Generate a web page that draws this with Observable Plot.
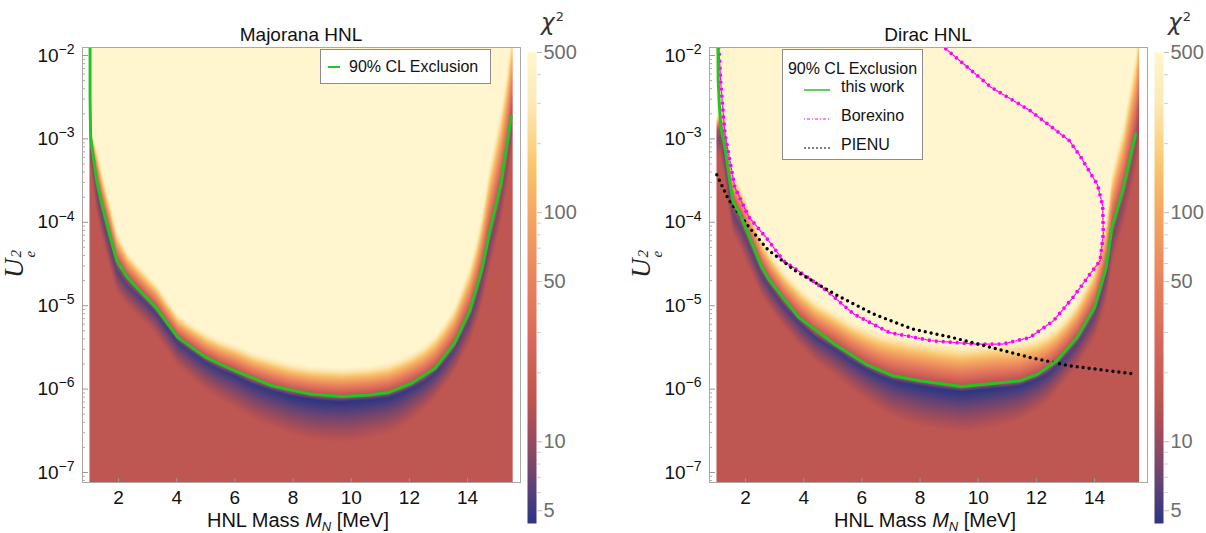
<!DOCTYPE html>
<html><head><meta charset="utf-8">
<script src="https://cdn.jsdelivr.net/npm/d3@7"></script>
<script src="https://cdn.jsdelivr.net/npm/@observablehq/plot@0.6"></script>
<style>
body{margin:0;background:#fff;font-family:"Liberation Sans",Arial,Helvetica,sans-serif;}
#root{position:relative;width:1206px;height:533px;overflow:hidden;background:#fff}
.abs{position:absolute;white-space:nowrap;line-height:1}
.title{font-size:19px;color:#111;transform:translateX(-50%)}
.xlab{font-size:20px;color:#111;transform:translateX(-50%)}
.xlab sub{font-size:13px;vertical-align:-4px;font-style:italic}
.ylab{font-family:"Liberation Serif","DejaVu Serif",serif;font-style:italic;font-size:27px;color:#222;transform:translate(-50%,-50%) rotate(-90deg)}
.stack{display:inline-flex;flex-direction:column;font-size:15px;line-height:14px;vertical-align:2px;margin-left:1px}
.chi{font-size:23px;color:#333;font-family:"DejaVu Sans","Liberation Sans",sans-serif;font-style:italic}
.chi sup{font-size:13px;font-style:normal;vertical-align:9px;margin-left:1px}
.legend{border:1px solid #8c8c8c;background:#fff;font-size:16px;color:#111}
</style></head><body><div id="root"></div>
<script>
// ---------------- data ----------------
const xTicks = [2, 4, 6, 8, 10, 12, 14];
const yTicks = [1e-7, 1e-6, 1e-5, 1e-4, 1e-3, 1e-2];
const chi2Ticks = [5, 10, 50, 100, 500];
const chi2MinorTicks = [6, 7, 8, 9, 20, 30, 40, 60, 70, 80, 90, 200, 300, 400];
const massDomain = [0.76, 15.82];
const logU2Domain = [-7.12, -1.904];
const chi2Domain = [4.4, 500];
const chi2Background = 15.5;
const chi2AtEdge = 13;
const chi2Cream = 500;

// colour map (chi^2 value -> colour)
const colorStopChi2 = [4.4, 5, 6, 7, 8, 10, 12, 15, 18, 25, 35, 50, 70, 100, 150, 200, 300, 500];
const colorStopHex = ["#2d3580", "#3b3a80", "#55407a", "#6a4473", "#7c4769", "#974b5f", "#aa4f57", "#bd5552", "#c55a52", "#d3655a", "#df735b", "#e8825d", "#ef945f", "#f4a862", "#f8c26b", "#fbd487", "#fde9b5", "#fff6cf"];

// Majorana: 90% CL exclusion contour
const majExclMass  = [1.02, 1.02, 1.04, 1.1, 1.25, 1.44, 1.7, 1.94, 2.3, 2.73, 3.28, 4.04, 5.0, 6.0, 7.28, 8.6, 9.68, 10.6, 11.28, 12.07, 12.88, 13.55, 14.08, 14.48, 14.75, 15.15, 15.5];
const majExclLogU2 = [-1.9, -2.5, -2.98, -3.14, -3.5, -3.8, -4.15, -4.46, -4.66, -4.82, -5.02, -5.38, -5.62, -5.78, -5.96, -6.06, -6.09, -6.07, -6.04, -5.93, -5.75, -5.45, -5.06, -4.58, -4.13, -3.54, -2.73];
// Majorana: chi^2 map read column by column (log10 U^2 of the sharp edge, rise to cream, blue dip below)
const majMapMass      = [1.0, 1.1, 1.25, 1.44, 1.7, 1.94, 2.3, 2.73, 3.0, 3.28, 3.65, 4.04, 4.5, 5.0, 5.5, 6.0, 6.6, 7.28, 7.9, 8.6, 9.1, 9.68, 10.1, 10.6, 11.28, 11.7, 12.07, 12.5, 12.88, 13.2, 13.55, 13.8, 14.08, 14.3, 14.48, 14.75, 14.95, 15.15, 15.35, 15.55];
const majMapEdge      = [-3.0, -3.14, -3.5, -3.8, -4.15, -4.46, -4.66, -4.82, -4.92, -5.02, -5.2, -5.38, -5.5, -5.62, -5.71, -5.78, -5.88, -5.96, -6.02, -6.06, -6.08, -6.09, -6.08, -6.07, -6.04, -5.99, -5.93, -5.85, -5.75, -5.62, -5.45, -5.27, -5.06, -4.82, -4.58, -4.13, -3.85, -3.54, -3.15, -2.6];
const majMapCreamRise = [0.15, 0.19, 0.4, 0.4, 0.4, 0.36, 0.31, 0.3, 0.3, 0.3, 0.29, 0.28, 0.29, 0.3, 0.31, 0.32, 0.33, 0.34, 0.34, 0.34, 0.35, 0.35, 0.35, 0.35, 0.36, 0.37, 0.37, 0.38, 0.4, 0.42, 0.45, 0.5, 0.56, 0.62, 0.68, 0.83, 0.9, 0.94, 1.0, 1.0];
const majMapDipDepth  = [0.1, 0.14, 0.16, 0.16, 0.14, 0.12, 0.1, 0.08, 0.07, 0.07, 0.06, 0.06, 0.06, 0.06, 0.06, 0.06, 0.06, 0.06, 0.06, 0.06, 0.06, 0.06, 0.06, 0.06, 0.06, 0.06, 0.06, 0.06, 0.06, 0.07, 0.08, 0.09, 0.1, 0.12, 0.14, 0.16, 0.18, 0.2, 0.2, 0.2];
const majMapDipChi2   = [9, 8, 7.5, 7, 6.5, 6.2, 6, 5.8, 5.6, 5.5, 5.3, 5.2, 5.1, 5, 4.9, 4.8, 4.7, 4.6, 4.5, 4.4, 4.4, 4.4, 4.4, 4.5, 4.6, 4.7, 4.9, 5.1, 5.3, 5.6, 6, 6.3, 6.6, 7, 7.3, 7.8, 8.3, 9, 9.5, 10];
const majMapFadeDepth = [0.3, 0.35, 0.4, 0.4, 0.4, 0.38, 0.35, 0.33, 0.32, 0.32, 0.33, 0.35, 0.37, 0.4, 0.42, 0.45, 0.48, 0.5, 0.52, 0.55, 0.55, 0.55, 0.55, 0.52, 0.5, 0.47, 0.44, 0.4, 0.37, 0.35, 0.35, 0.35, 0.38, 0.4, 0.42, 0.45, 0.45, 0.45, 0.45, 0.45];

// Dirac: 90% CL exclusion contour (this work)
const dirExclMass  = [1.05, 1.06, 1.1, 1.15, 1.29, 1.56, 1.83, 2.23, 2.56, 2.83, 3.83, 5.06, 6.13, 7.07, 8.0, 9.43, 10.57, 11.44, 12.05, 12.7, 13.4, 14.0, 14.4, 14.6, 15.0, 15.41];
const dirExclLogU2 = [-1.9, -2.3, -2.6, -2.86, -3.1, -3.74, -3.92, -4.26, -4.54, -4.70, -5.14, -5.46, -5.70, -5.84, -5.90, -5.97, -5.93, -5.90, -5.82, -5.66, -5.38, -5.02, -4.54, -4.06, -3.58, -2.94];
// Dirac: chi^2 map read column by column
const dirMapMass      = [1.0, 1.15, 1.29, 1.42, 1.56, 1.83, 2.23, 2.56, 2.83, 3.3, 3.83, 4.4, 5.06, 5.6, 6.13, 6.6, 7.07, 7.5, 8.0, 8.7, 9.43, 10.0, 10.57, 11.0, 11.44, 12.05, 12.4, 12.7, 13.05, 13.4, 13.7, 14.0, 14.2, 14.4, 14.6, 14.8, 15.0, 15.2, 15.41, 15.53];
const dirMapEdge      = [-2.9, -2.86, -3.1, -3.45, -3.74, -3.92, -4.26, -4.54, -4.70, -4.93, -5.14, -5.32, -5.46, -5.59, -5.70, -5.78, -5.84, -5.87, -5.90, -5.94, -5.97, -5.95, -5.93, -5.92, -5.90, -5.82, -5.75, -5.66, -5.53, -5.38, -5.21, -5.02, -4.80, -4.54, -4.06, -3.82, -3.58, -3.27, -2.94, -2.6];
const dirMapCreamRise = [0.15, 0.25, 0.3, 0.35, 0.35, 0.35, 0.35, 0.35, 0.35, 0.36, 0.38, 0.39, 0.4, 0.42, 0.45, 0.47, 0.5, 0.5, 0.5, 0.5, 0.5, 0.5, 0.5, 0.49, 0.48, 0.45, 0.44, 0.42, 0.42, 0.44, 0.47, 0.5, 0.55, 0.6, 0.7, 0.75, 0.8, 0.9, 1.0, 1.0];
const dirMapDipDepth  = [0.1, 0.14, 0.16, 0.16, 0.16, 0.14, 0.12, 0.1, 0.08, 0.07, 0.06, 0.06, 0.06, 0.06, 0.06, 0.06, 0.06, 0.06, 0.06, 0.06, 0.06, 0.06, 0.06, 0.06, 0.06, 0.06, 0.06, 0.06, 0.07, 0.08, 0.09, 0.1, 0.11, 0.12, 0.14, 0.16, 0.18, 0.2, 0.2, 0.2];
const dirMapDipChi2   = [9, 8, 7.5, 7, 6.8, 6.5, 6.2, 6, 5.8, 5.6, 5.4, 5.2, 5.1, 5, 4.9, 4.8, 4.7, 4.6, 4.5, 4.4, 4.4, 4.4, 4.5, 4.6, 4.7, 4.9, 5.1, 5.3, 5.6, 6, 6.3, 6.6, 7, 7.3, 7.8, 8.3, 9, 9.5, 10, 10];
const dirMapFadeDepth = [0.3, 0.35, 0.4, 0.4, 0.4, 0.4, 0.38, 0.35, 0.33, 0.32, 0.33, 0.35, 0.38, 0.4, 0.43, 0.46, 0.5, 0.52, 0.55, 0.55, 0.55, 0.55, 0.53, 0.5, 0.47, 0.43, 0.4, 0.37, 0.35, 0.35, 0.35, 0.38, 0.4, 0.42, 0.45, 0.45, 0.45, 0.45, 0.45, 0.45];

// Borexino bound
const borexMass  = [1.08, 1.15, 1.29, 1.63, 2.1, 2.77, 3.3, 3.97, 4.79, 5.72, 6.93, 8.4, 9.9, 10.84, 11.78, 12.59, 13.26, 13.93, 14.19, 14.3, 14.28, 14.1, 13.53, 13.13, 11.78, 10.44, 9.09, 8.82];
const borexLogU2 = [-1.9, -2.34, -2.94, -3.58, -3.93, -4.21, -4.46, -4.62, -4.82, -5.10, -5.32, -5.42, -5.46, -5.46, -5.38, -5.18, -4.90, -4.58, -4.46, -4.14, -3.8, -3.55, -3.22, -3.02, -2.66, -2.38, -1.98, -1.9];
// PIENU bound
const pienuMass  = [1.01, 1.42, 2.1, 2.77, 3.71, 5.06, 6.4, 7.74, 9.09, 10.44, 11.78, 13.13, 14.47, 15.43];
const pienuLogU2 = [-3.43, -3.73, -4.05, -4.33, -4.58, -4.86, -5.10, -5.28, -5.38, -5.50, -5.62, -5.72, -5.78, -5.82];

// ---------------- rendering ----------------
const FONT = "'Liberation Sans', Arial, Helvetica, sans-serif";
const GREEN = "#25c425", MAGENTA = "#ff00ff";
const root = document.getElementById("root");
const L10 = Math.log10;

const piece = d3.scaleLinear().domain(colorStopChi2.map(L10)).range(colorStopHex).interpolate(d3.interpolateRgb).clamp(true);
const cLo = L10(chi2Domain[0]), cHi = L10(chi2Domain[1]);
const colorOpts = {type: "linear", domain: [cLo, cHi], clamp: true, interpolate: (t) => piece(cLo + t * (cHi - cLo))};

const yMinor = [];
for (let d = -8; d <= -2; d++) for (let k = 2; k <= 9; k++) {
  const v = k * 10 ** d;
  if (L10(v) > logU2Domain[0] && L10(v) < logU2Domain[1]) yMinor.push(v);
}

function place(node, left, top) {
  node.style.position = "absolute"; node.style.left = left + "px"; node.style.top = top + "px";
  root.appendChild(node);
}
function html(h, cls, left, top) {
  const d = document.createElement("div");
  d.className = "abs " + (cls || "");
  d.innerHTML = h; d.style.left = left + "px"; d.style.top = top + "px";
  root.appendChild(d); return d;
}

// chi^2 field built from the column readings: value (log10 chi^2) at (mass, U^2)
function makeField(mass, edge, rise, dipD, dipC, fadeD) {
  const n = mass.length;
  const vBg = L10(chi2Background), vEdge = L10(chi2AtEdge), vTop = L10(chi2Cream);
  return (m, u) => {
    let i = d3.bisectRight(mass, m) - 1;
    i = Math.max(0, Math.min(n - 2, i));
    const f = Math.max(0, Math.min(1, (m - mass[i]) / (mass[i + 1] - mass[i])));
    const at = a => a[i] + (a[i + 1] - a[i]) * f;
    const e = at(edge), y = L10(u);
    const l0 = e - at(fadeD), l1 = e - at(dipD), l3 = e + at(rise);
    const v1 = L10(at(dipC));
    if (y <= l0) return vBg;
    if (y <= l1) return vBg + (v1 - vBg) * (y - l0) / (l1 - l0);
    if (y <= e) return v1 + (vEdge - v1) * (y - l1) / (e - l1);
    if (y <= l3) return vEdge + (vTop - vEdge) * (y - e) / (l3 - e);
    return vTop;
  };
}
const toRows = (ms, ls) => ms.map((m, i) => ({m, u: 10 ** ls[i]}));

function supLabels(svg) {
  svg.querySelectorAll('g[aria-label="y-axis tick label"] text').forEach(t => {
    const e = t.textContent;
    if (!e) return;
    t.textContent = "10";
    const ts = document.createElementNS("http://www.w3.org/2000/svg", "tspan");
    ts.setAttribute("dy", "-0.55em"); ts.setAttribute("font-size", "14px");
    ts.textContent = "\u2212" + Math.abs(+e);
    t.appendChild(ts);
  });
}

function panel(left, field, x2, extraMarks, excl) {
  const svg = Plot.plot({
    width: 530, height: 533, marginLeft: 82, marginRight: 10, marginTop: 47, marginBottom: 51,
    style: {fontFamily: FONT, fontSize: "19px", color: "#111", background: "transparent", overflow: "visible"},
    x: {domain: massDomain},
    y: {type: "log", domain: [10 ** logU2Domain[0], 10 ** logU2Domain[1]]},
    color: colorOpts,
    marks: [
      Plot.raster({x1: 1.0, x2, y1: 10 ** logU2Domain[0], y2: 10 ** logU2Domain[1], fill: field}),
      ...extraMarks,
      Plot.line(excl, {x: "m", y: "u", stroke: GREEN, strokeWidth: 3, clip: true}),
      Plot.frame({stroke: "#a8a8a8"}),
      Plot.axisY(yTicks, {anchor: "left", tickSize: 0, tickPadding: 8, fontSize: 19, fill: "#111", tickFormat: d => String(Math.round(L10(d))), label: null}),
      Plot.axisY(yTicks, {anchor: "left", tickSize: -6, tickFormat: () => "", stroke: "#999", label: null}),
      Plot.axisY(yMinor, {anchor: "left", tickSize: -3, tickFormat: () => "", stroke: "#aaa", label: null}),
      Plot.axisX(xTicks, {anchor: "bottom", tickSize: 0, tickPadding: 8, fontSize: 19, fill: "#111", label: null}),
      Plot.axisX(xTicks, {anchor: "bottom", tickSize: -4, tickFormat: () => "", stroke: "#999", label: null})
    ]
  });
  supLabels(svg);
  place(svg, left, 0);
}

function colorbar(left) {
  const svg = Plot.plot({
    width: 90, height: 533, marginLeft: 8, marginRight: 73, marginTop: 52, marginBottom: 10,
    style: {fontFamily: FONT, background: "transparent", overflow: "visible"},
    x: {domain: [0, 1], axis: null},
    y: {type: "log", domain: chi2Domain},
    color: colorOpts,
    marks: [
      Plot.raster({x1: 0, x2: 1, y1: chi2Domain[0], y2: chi2Domain[1], fill: (x, y) => L10(y)}),
      Plot.axisY(chi2MinorTicks, {anchor: "right", tickSize: 4, tickFormat: () => "", stroke: "#cfcfcf", label: null}),
      Plot.axisY(chi2Ticks, {anchor: "right", tickSize: 5, tickPadding: 2, fontSize: 20, fill: "#6e6e6e", stroke: "#bbb", tickFormat: d => String(d), label: null})
    ]
  });
  place(svg, left, 0);
}

// Left panel: Majorana
panel(0, makeField(majMapMass, majMapEdge, majMapCreamRise, majMapDipDepth, majMapDipChi2, majMapFadeDepth), 15.55, [], toRows(majExclMass, majExclLogU2));
colorbar(519);

// Right panel: Dirac
const borexRows = toRows(borexMass, borexLogU2), pienuRows = toRows(pienuMass, pienuLogU2);
panel(627, makeField(dirMapMass, dirMapEdge, dirMapCreamRise, dirMapDipDepth, dirMapDipChi2, dirMapFadeDepth), 15.53, [
  Plot.line(borexRows, {x: "m", y: "u", stroke: MAGENTA, strokeWidth: 1.2, strokeDasharray: "0 2.5 2 2.5", clip: true}),
  Plot.line(borexRows, {x: "m", y: "u", stroke: MAGENTA, strokeWidth: 3.8, strokeDasharray: "0 7", strokeLinecap: "round", clip: true}),
  Plot.line(pienuRows, {x: "m", y: "u", stroke: "#000", strokeWidth: 3.4, strokeDasharray: "0 6", strokeLinecap: "round", clip: true})
], toRows(dirExclMass, dirExclLogU2));
colorbar(1146);

// Text
html("Majorana HNL", "title", 301, 25);
html("Dirac HNL", "title", 928, 25);
html('HNL Mass <i>M</i><sub>N</sub> [MeV]', "xlab", 298, 510);
html('HNL Mass <i>M</i><sub>N</sub> [MeV]', "xlab", 925, 510);
html('U<span class="stack"><span>2</span><span>e</span></span>', "ylab", 19, 264);
html('U<span class="stack"><span>2</span><span>e</span></span>', "ylab", 646, 264);
html('\u03c7<sup>2</sup>', "chi", 541, 10);
html('\u03c7<sup>2</sup>', "chi", 1168, 10);

// Legends
const sw = (stroke, w, dash, cap) => `<svg width="28" height="8" style="vertical-align:middle"><line x1="1" y1="4" x2="27" y2="4" stroke="${stroke}" stroke-width="${w}" ${dash ? `stroke-dasharray="${dash}"` : ""} ${cap ? `stroke-linecap="${cap}"` : ""}/></svg>`;
const lg1 = html(`<div style="position:absolute;left:7px;top:16px;width:12px;height:0;border-top:2px solid ${GREEN}"></div><div style="position:absolute;left:28px;top:9px">90% CL Exclusion</div>`, "legend", 320, 49);
lg1.style.width = "169px"; lg1.style.height = "33px";
const lg2 = html(`<div style="position:absolute;left:0;width:139px;top:11px;text-align:center">90% CL Exclusion</div>
<div style="position:absolute;left:20px;top:31px">${sw(GREEN, 1.5)}</div><div style="position:absolute;left:58px;top:29px">this work</div>
<div style="position:absolute;left:20px;top:60px">${sw(MAGENTA, 1.2, "1 2 3 2")}</div><div style="position:absolute;left:58px;top:58px">Borexino</div>
<div style="position:absolute;left:20px;top:89px">${sw("#000", 1, "2 2")}</div><div style="position:absolute;left:58px;top:87px">PIENU</div>`, "legend", 782, 49);
lg2.style.width = "139px"; lg2.style.height = "109px";
</script></body></html>
